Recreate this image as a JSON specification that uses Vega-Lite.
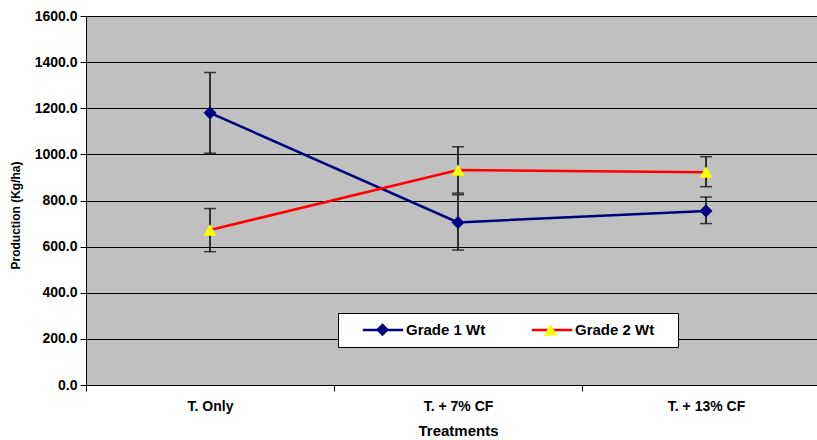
{
  "$schema": "https://vega.github.io/schema/vega-lite/v6.json",
  "autosize": "none",
  "width": 744,
  "height": 369,
  "padding": {"left": 86, "top": 16, "right": 0, "bottom": 55},
  "background": "white",
  "config": {
    "font": "Liberation Sans",
    "view": {"fill": "#C0C0C0", "stroke": null},
    "axis": {
      "labelFont": "Liberation Sans", "labelFontWeight": "bold", "labelColor": "black",
      "titleFont": "Liberation Sans", "titleFontWeight": "bold", "titleColor": "black",
      "domainColor": "black", "tickColor": "black", "domainWidth": 1, "tickWidth": 1
    }
  },
  "data": {"values": [
    {"treatment": "T. Only", "series": "Grade 1 Wt", "value": 1180, "lo": 1005, "hi": 1355},
    {"treatment": "T. + 7% CF", "series": "Grade 1 Wt", "value": 705, "lo": 585, "hi": 825},
    {"treatment": "T. + 13% CF", "series": "Grade 1 Wt", "value": 755, "lo": 700, "hi": 815},
    {"treatment": "T. Only", "series": "Grade 2 Wt", "value": 672, "lo": 578, "hi": 765},
    {"treatment": "T. + 7% CF", "series": "Grade 2 Wt", "value": 932, "lo": 832, "hi": 1033},
    {"treatment": "T. + 13% CF", "series": "Grade 2 Wt", "value": 923, "lo": 860, "hi": 990}
  ]},
  "encoding": {
    "x": {
      "field": "treatment", "type": "nominal",
      "scale": {"type": "band", "domain": ["T. Only", "T. + 7% CF", "T. + 13% CF"], "paddingInner": 0, "paddingOuter": 0},
      "axis": {"title": "Treatments", "tickBand": "extent", "labelAngle": 0, "grid": false, "labelFontSize": 14, "titleFontSize": 15, "tickSize": 6, "labelPadding": 8, "titlePadding": 10}
    }
  },
  "layer": [
    {
      "mark": {"type": "errorbar", "ticks": {"size": 12, "thickness": 1.5, "color": "black"}, "rule": {"strokeWidth": 1.5, "color": "black"}},
      "encoding": {
        "y": {"field": "lo", "type": "quantitative", "scale": {"domain": [0, 1600], "nice": false},
          "axis": {"title": "Production (Kg/ha)", "values": [0, 200, 400, 600, 800, 1000, 1200, 1400, 1600], "format": ".1f", "grid": true, "gridColor": "black", "gridWidth": 1, "tickSize": 6, "labelPadding": 3, "labelFontSize": 14, "titleFontSize": 12, "titleX": -71, "titleY": 199, "titleBaseline": "middle", "titleAlign": "center", "titleAngle": 270}},
        "y2": {"field": "hi"}
      }
    },
    {
      "mark": {"type": "line", "strokeWidth": 2.5},
      "encoding": {
        "y": {"field": "value", "type": "quantitative", "scale": {"domain": [0, 1600], "nice": false},
          "axis": {"title": "Production (Kg/ha)", "values": [0, 200, 400, 600, 800, 1000, 1200, 1400, 1600], "format": ".1f", "grid": true, "gridColor": "black", "gridWidth": 1, "tickSize": 6, "labelPadding": 3, "labelFontSize": 14, "titleFontSize": 12, "titleX": -71, "titleY": 199, "titleBaseline": "middle", "titleAlign": "center", "titleAngle": 270}},
        "stroke": {"field": "series", "type": "nominal", "scale": {"range": ["#000080", "#FF0000"]},
          "legend": {"orient": "none", "legendX": 252, "legendY": 297, "direction": "horizontal",
            "title": "\u00a0", "titleOrient": "right", "titlePadding": 15, "titleFontSize": 8,
            "symbolType": "M-3.1,0L3.1,0", "symbolSize": 170, "symbolStrokeWidth": 2.5,
            "labelFont": "Liberation Sans", "labelFontSize": 15, "labelFontWeight": "bold", "labelColor": "black",
            "labelOffset": 15, "columnPadding": 30, "padding": 9, "fillColor": "white", "strokeColor": "black", "symbolOffset": 28}}
      }
    },
    {
      "mark": {"type": "point", "filled": true, "opacity": 1, "size": 170},
      "encoding": {
        "y": {"field": "value", "type": "quantitative", "scale": {"domain": [0, 1600], "nice": false},
          "axis": {"title": "Production (Kg/ha)", "values": [0, 200, 400, 600, 800, 1000, 1200, 1400, 1600], "format": ".1f", "grid": true, "gridColor": "black", "gridWidth": 1, "tickSize": 6, "labelPadding": 3, "labelFontSize": 14, "titleFontSize": 12, "titleX": -71, "titleY": 199, "titleBaseline": "middle", "titleAlign": "center", "titleAngle": 270}},
        "fill": {"field": "series", "type": "nominal", "scale": {"domain": ["Grade 1 Wt", "Grade 2 Wt"], "range": ["#000080", "#FFFF00"]},
          "legend": {"orient": "none", "legendX": 252, "legendY": 297, "direction": "horizontal", "title": null,
            "symbolSize": 170, "symbolStrokeWidth": 0,
            "labelFont": "Liberation Sans", "labelFontSize": 15, "labelFontWeight": "bold", "labelExpr": "''",
            "labelOffset": 15, "columnPadding": 110, "padding": 9, "symbolOffset": 28}},
        "shape": {"field": "series", "type": "nominal", "scale": {"domain": ["Grade 1 Wt", "Grade 2 Wt"], "range": ["diamond", "triangle-up"]},
          "legend": {"orient": "none", "legendX": 252, "legendY": 297, "direction": "horizontal", "title": null,
            "symbolSize": 170, "symbolStrokeWidth": 0,
            "labelFont": "Liberation Sans", "labelFontSize": 15, "labelFontWeight": "bold", "labelExpr": "''",
            "labelOffset": 15, "columnPadding": 110, "padding": 9, "symbolOffset": 28}}
      }
    }
  ]
}
